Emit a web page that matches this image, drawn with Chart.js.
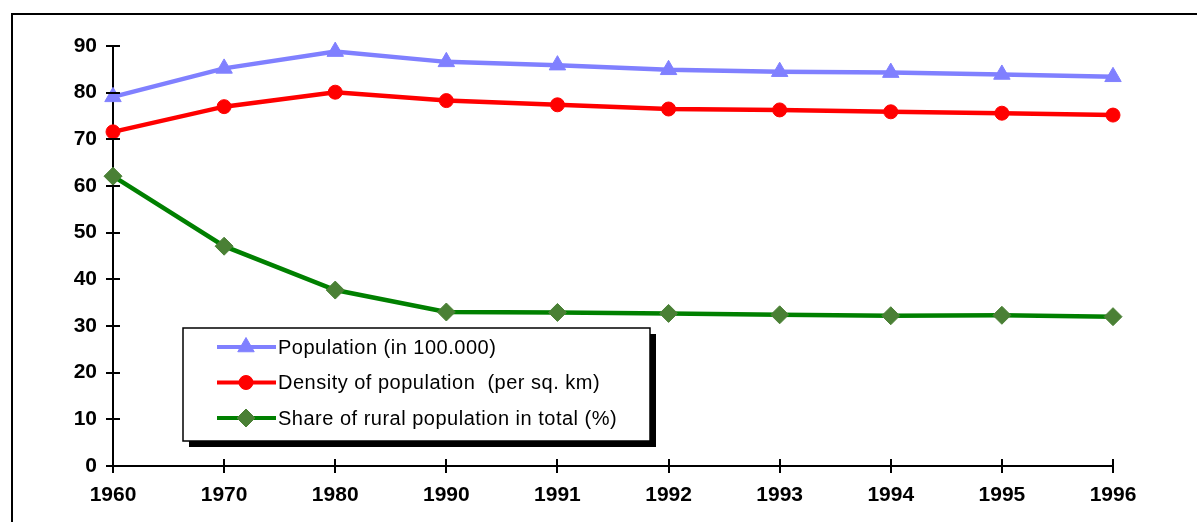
<!DOCTYPE html>
<html>
<head>
<meta charset="utf-8">
<script src="https://cdn.jsdelivr.net/npm/chart.js@4/dist/chart.umd.min.js"></script>
<style>
  html, body { margin: 0; padding: 0; background: #fff; overflow: hidden; }
  #wrap { position: relative; width: 1197px; height: 522px; }
  #title {
    position: absolute; left: 14px; top: -22px; white-space: nowrap;
    font: bold 21px "Liberation Serif", "Times New Roman", serif; line-height: 21px;
  }
  #frame {
    position: absolute; left: 11px; top: 13px; width: 1300px; height: 600px;
    border-left: 2px solid #000; border-top: 2px solid #000;
  }
  canvas { position: absolute; left: 0; top: 0; }
</style>
</head>
<body>
<div id="wrap">
  <div id="title">Figure 1. Population and rural share changes in Bulgaria</div>
  <div id="frame"></div>
  <canvas id="popChart" width="1197" height="522"></canvas>
</div>
<script>
const years = ["1960", "1970", "1980", "1990", "1991", "1992", "1993", "1994", "1995", "1996"];
const population = [79.1, 85.2, 88.8, 86.6, 85.9, 84.9, 84.5, 84.3, 83.9, 83.4];
const density = [71.6, 77.0, 80.1, 78.3, 77.4, 76.5, 76.3, 75.9, 75.6, 75.2];
const ruralShare = [62.1, 47.1, 37.7, 33.0, 32.9, 32.7, 32.4, 32.2, 32.3, 32.0];
const seriesNames = [
  "Population (in 100.000)",
  "Density of population  (per sq. km)",
  "Share of rural population in total (%)"
];

const tickFont = { family: "'Liberation Sans', Arial, sans-serif", size: 21, weight: "bold" };

// tick marks that cross the axis lines, like the original
const crossTicks = {
  id: "crossTicks",
  afterDraw(chart) {
    const ctx = chart.ctx;
    const { x, y } = chart.scales;
    ctx.save();
    ctx.strokeStyle = "#000";
    ctx.lineWidth = 2;
    ctx.beginPath();
    y.ticks.forEach((t, i) => {
      const py = Math.round(y.getPixelForTick(i));
      ctx.moveTo(x.left - 7, py);
      ctx.lineTo(x.left + 7, py);
    });
    x.ticks.forEach((t, i) => {
      const px = Math.round(x.getPixelForTick(i));
      ctx.moveTo(px, y.bottom - 7);
      ctx.lineTo(px, y.bottom + 7);
    });
    ctx.stroke();
    ctx.restore();
  }
};

// boxed legend with drop shadow inside the plot
const boxLegend = {
  id: "boxLegend",
  afterDraw(chart) {
    const ctx = chart.ctx;
    const bx = 183, by = 328, bw = 467, bh = 113;
    ctx.save();
    ctx.fillStyle = "#000";
    ctx.fillRect(bx + 6, by + 6, bw, bh);
    ctx.fillStyle = "#fff";
    ctx.fillRect(bx, by, bw, bh);
    ctx.strokeStyle = "#000";
    ctx.lineWidth = 1.5;
    ctx.strokeRect(bx, by, bw, bh);

    chart.data.datasets.forEach((ds, i) => {
      const cy = 347 + i * 35.5;
      ctx.strokeStyle = ds.borderColor;
      ctx.lineWidth = 4;
      ctx.beginPath();
      ctx.moveTo(217, cy);
      ctx.lineTo(276, cy);
      ctx.stroke();
      ctx.fillStyle = ds.pointBackgroundColor;
      ctx.strokeStyle = ds.pointBorderColor;
      ctx.lineWidth = 1;
      Chart.helpers.drawPoint(ctx, {
        pointStyle: ds.pointStyle, radius: ds.pointRadius, rotation: 0, borderWidth: 1
      }, 246, cy);
      ctx.fillStyle = "#000";
      ctx.font = "20px 'Liberation Sans', Arial, sans-serif";
      ctx.letterSpacing = "0.5px";
      ctx.textBaseline = "middle";
      ctx.fillText(ds.label, 278, cy + 1);
    });
    ctx.restore();
  }
};

new Chart(document.getElementById("popChart"), {
  type: "line",
  data: {
    labels: years,
    datasets: [
      {
        label: seriesNames[0], data: population,
        borderColor: "#8080ff", borderWidth: 4.5,
        pointStyle: "triangle", pointRadius: 9.5,
        pointBackgroundColor: "#8080ff", pointBorderColor: "#8080ff", pointBorderWidth: 1,
        clip: false
      },
      {
        label: seriesNames[1], data: density,
        borderColor: "#ff0000", borderWidth: 4.5,
        pointStyle: "circle", pointRadius: 7,
        pointBackgroundColor: "#ff0000", pointBorderColor: "#ff0000", pointBorderWidth: 1,
        clip: false
      },
      {
        label: seriesNames[2], data: ruralShare,
        borderColor: "#008000", borderWidth: 4.5,
        pointStyle: "rectRot", pointRadius: 9,
        pointBackgroundColor: "#4a8035", pointBorderColor: "#4a8035", pointBorderWidth: 1,
        clip: false
      }
    ]
  },
  options: {
    responsive: false,
    animation: false,
    layout: { padding: { top: 46, right: 84, left: 0, bottom: 0 } },
    plugins: {
      legend: { display: false },
      tooltip: { enabled: false }
    },
    scales: {
      x: {
        offset: false,
        grid: { display: false, drawTicks: false },
        border: { display: true, color: "#000", width: 2 },
        ticks: { color: "#000", font: tickFont, padding: 17, maxRotation: 0, autoSkip: false },
        afterFit(scale) { scale.height = 56; }
      },
      y: {
        min: 0, max: 90,
        grid: { display: false, drawTicks: false },
        border: { display: true, color: "#000", width: 2 },
        ticks: { stepSize: 10, color: "#000", font: tickFont, padding: 16 },
        afterFit(scale) { scale.width = 113; }
      }
    }
  },
  plugins: [crossTicks, boxLegend]
});
</script>
</body>
</html>
